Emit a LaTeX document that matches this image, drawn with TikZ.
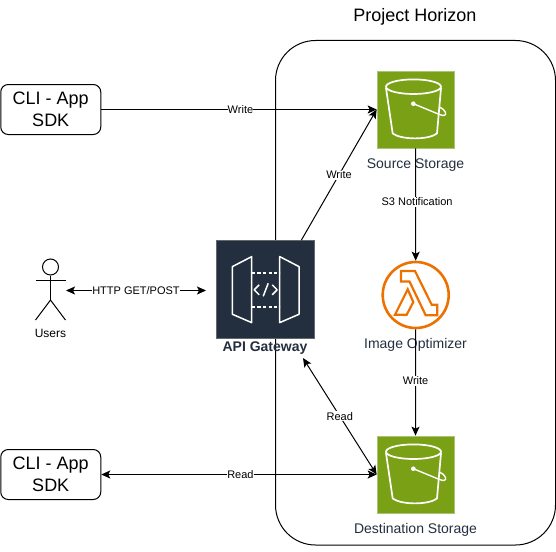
\documentclass[tikz,border=0pt]{standalone}
\usepackage{fontspec}
\setmainfont{Liberation Sans}
\usetikzlibrary{arrows.meta}
\definecolor{awsink}{HTML}{232F3E}
\definecolor{awsgreen}{HTML}{7AA116}
\definecolor{awsgreenline}{HTML}{A9C47A}
\definecolor{awsorange}{HTML}{ED7100}
\tikzset{
  x=1pt,y=-1pt,
  link/.style={draw=black,line width=1pt,-{Stealth[length=9pt,width=8pt,inset=2pt]}},
  biglink/.style={link,{Stealth[length=9pt,width=8pt,inset=2pt]}-{Stealth[length=9pt,width=8pt,inset=2pt]}},
  plainline/.style={draw=black,line width=1pt},
  edgelabel/.style={fill=white,inner xsep=0pt,inner ysep=1pt,font=\fontsize{11}{12}\selectfont,text=black},
  cli/.style={draw=black,line width=1pt,rounded corners=7.5pt,fill=white,minimum width=100pt,minimum height=50pt,align=center,inner sep=0pt,font=\fontsize{18}{22}\selectfont},
  bucketbox/.style={draw=awsgreenline,line width=0.7pt,fill=awsgreen,minimum width=77pt,minimum height=77pt,inner sep=0pt},
  apibox/.style={draw=gray!70!awsink,line width=0.7pt,fill=awsink,minimum width=97.5pt,minimum height=98pt,inner sep=0pt},
  lambdaring/.style={circle,draw=awsorange,line width=2.6pt,minimum size=66pt,inner sep=0pt},
  caption/.style={text=awsink,inner sep=0pt,anchor=base,font=\fontsize{14}{16}\selectfont},
  iconline/.style={draw=white,line width=1.5pt,line join=round},
  bucket/.pic={
    \draw[iconline,line width=1.7pt] (-2,-22.8) ellipse (27.5 and 7.3);
    \draw[iconline,line width=1.7pt] (-29.5,-21.5) -- (-22.8,24) .. controls (-14,30.5) and (13,30.5) .. (21.5,24) -- (25.5,-21.5);
    \draw[iconline,line width=1.4pt] (-2.2,-5.8) -- (24,5) .. controls (28,6.8) and (31,6) .. (30,3) .. controls (29.3,0.5) and (27,-1) .. (24.3,-2.2);
    \fill[white] (-2.2,-5.8) circle (2.3);
  }
}
\begin{document}
\begin{tikzpicture}
\useasboundingbox (0,0) rectangle (556,551);
% container
\draw[line width=1pt,rounded corners=40pt,draw=black] (275.5,40.5) rectangle (555.5,545);
\node[inner sep=0pt,anchor=base,font=\fontsize{18}{22}\selectfont] (title) at (415,22) {Project Horizon};

% nodes
\node[cli] (cliA) at (50.75,109.5) {CLI - App\\SDK};
\node[cli] (cliB) at (50.75,474.5) {CLI - App\\SDK};
\node[bucketbox] (src) at (415.5,109.5) {};
\pic at (src.center) {bucket};
\node[caption] (srcl) at (415.5,168) {Source Storage};
\node[bucketbox] (dst) at (415.5,474.5) {};
\pic at (dst.center) {bucket};
\node[caption] (dstl) at (415.5,533) {Destination Storage};
\node[apibox] (api) at (265.5,289.5) {};
\node[caption,font=\bfseries\fontsize{14}{16}\selectfont] (apil) at (265,351) {API Gateway};
\node[lambdaring] (fn) at (415.7,295) {};
\node[caption] (fnl) at (415.5,348.5) {Image Optimizer};

% API gateway glyph
\begin{scope}[shift={(216.7,240.3)}]
  \draw[iconline] (15.7,26.3) -- (35,16.3) -- (35,82.3) -- (15.7,74) -- cycle;
  \draw[iconline] (63,16.3) -- (82.3,26.3) -- (82.3,74) -- (63,82.3) -- cycle;
  \draw[iconline,dash pattern=on 3.2pt off 2.4pt] (35,32.7) -- (63,32.7);
  \draw[iconline,dash pattern=on 3.2pt off 2.4pt] (35,66.7) -- (63,66.7);
  \draw[iconline] (42.5,44.5) -- (37.5,49.5) -- (42.5,54.5);
  \draw[iconline] (55.5,44.5) -- (60.5,49.5) -- (55.5,54.5);
  \draw[iconline] (46.5,56) -- (51.5,43);
\end{scope}

% lambda glyph
\draw[draw=awsorange,line width=2.2pt,line join=miter]
  (401,271) -- (415,271) -- (431.7,304.7) -- (437.3,304.7) -- (437.3,315.3) -- (425.7,315.3) -- (409.5,281.5) -- (401,281.5) -- cycle;
\draw[draw=awsorange,line width=2.2pt,line join=miter]
  (407.7,289.3) -- (413.3,302) -- (406.7,314.7) -- (395,314.7) -- cycle;

% actor
\node[circle,draw=black,line width=1pt,minimum size=16pt,inner sep=0pt] (head) at (50.5,267) {};
\coordinate (hip) at (50.5,300);
\coordinate (armL) at (35.5,280);
\coordinate (armR) at (65.5,280);
\coordinate (footL) at (35.5,320);
\coordinate (footR) at (65.5,320);
\draw[plainline] (head.south) -- (hip);
\draw[plainline] (armL) -- (armR);
\draw[plainline] (footL) -- (hip) -- (footR);
\node[inner sep=0pt,anchor=base,font=\fontsize{12}{14}\selectfont] (users) at (50.5,337.5) {Users};

% connectors
\coordinate (userport) at (66,290.5);
\coordinate (apiin) at (206,290.5);
\coordinate (apiread) at (303,358);
\draw[link] (cliA.east) -- (src.west) node[edgelabel,pos=0.5,xshift=1.5pt] {Write};
\draw[biglink] (cliB.east) -- (dst.west) node[edgelabel,pos=0.5,xshift=1.5pt] {Read};
\draw[biglink] (userport) -- (apiin) node[edgelabel,pos=0.5] {HTTP GET/POST};
\draw[link] (api.54) -- (src.west) node[edgelabel,pos=0.5] {Write};
\draw[biglink] (apiread) -- (dst.west) node[edgelabel,pos=0.5] {Read};
\draw[link] (src.south) -- (fn.north) node[edgelabel,pos=0.475,xshift=1.5pt] {S3 Notification};
\draw[link] (fn.south) -- (dst.north) node[edgelabel,pos=0.485] {Write};
\end{tikzpicture}
\end{document}
